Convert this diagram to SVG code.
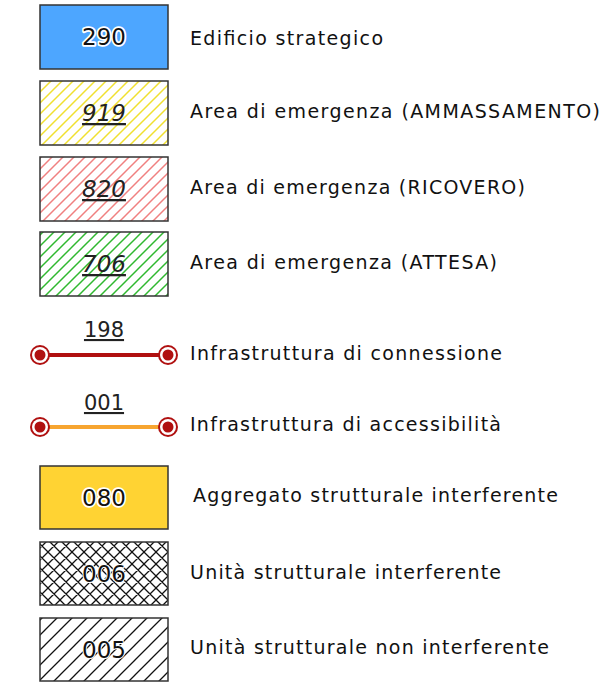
<svg xmlns="http://www.w3.org/2000/svg" width="612" height="683" viewBox="0 0 612 683">
<defs>
<pattern id="hY" patternUnits="userSpaceOnUse" width="11" height="11"><path d="M-1,1 l2,-2 M0,11 l11,-11 M10,12 l2,-2" stroke="#f0e030" stroke-width="1.5"/></pattern>
<pattern id="hR" patternUnits="userSpaceOnUse" width="11" height="11"><path d="M-1,1 l2,-2 M0,11 l11,-11 M10,12 l2,-2" stroke="#f08080" stroke-width="1.5"/></pattern>
<pattern id="hG" patternUnits="userSpaceOnUse" width="11" height="11"><path d="M-1,1 l2,-2 M0,11 l11,-11 M10,12 l2,-2" stroke="#30b830" stroke-width="1.5"/></pattern>
<pattern id="hX" patternUnits="userSpaceOnUse" width="12" height="12"><path d="M-1,1 l2,-2 M0,12 l12,-12 M11,13 l2,-2 M-1,11 l2,2 M0,0 l12,12 M11,-1 l2,2" stroke="#111" stroke-width="1.3"/></pattern>
<pattern id="hK" patternUnits="userSpaceOnUse" width="15" height="15"><path d="M-1,1 l2,-2 M0,15 l15,-15 M14,16 l2,-2" stroke="#111" stroke-width="1.3"/></pattern>
</defs>
<style>
.box{stroke:#333;stroke-width:1.5}
.lbl{font-family:"DejaVu Sans",sans-serif;font-size:19px;fill:#111}
.num{font-family:"DejaVu Sans",sans-serif;font-size:23px;fill:#111;text-anchor:middle;stroke:#fff;stroke-width:3.5;paint-order:stroke;stroke-linejoin:round}
.it{font-family:"DejaVu Sans",sans-serif;font-size:23px;font-style:italic;fill:#222;text-anchor:middle;text-decoration:underline}
.ul{font-family:"DejaVu Sans",sans-serif;font-size:21px;fill:#222;text-anchor:middle;text-decoration:underline}
</style>
<g id="n290">
<rect class="box" x="40" y="5" width="128" height="64" fill="#4da6ff"/>
<text class="num" x="104" y="45">290</text>
<text class="lbl" x="190" y="45" textLength="193" lengthAdjust="spacing">Edificio strategico</text>
</g>
<g id="n919">
<rect x="40" y="81" width="128" height="64" fill="#fff"/>
<rect class="box" x="40" y="81" width="128" height="64" fill="url(#hY)"/>
<text class="it" x="104" y="121">919</text>
<text class="lbl" x="190" y="118" textLength="410" lengthAdjust="spacing">Area di emergenza (AMMASSAMENTO)</text>
</g>
<g id="n820">
<rect x="40" y="157" width="128" height="64" fill="#fff"/>
<rect class="box" x="40" y="157" width="128" height="64" fill="url(#hR)"/>
<text class="it" x="104" y="197">820</text>
<text class="lbl" x="190" y="194" textLength="335" lengthAdjust="spacing">Area di emergenza (RICOVERO)</text>
</g>
<g id="n706">
<rect x="40" y="232" width="128" height="64" fill="#fff"/>
<rect class="box" x="40" y="232" width="128" height="64" fill="url(#hG)"/>
<text class="it" x="104" y="272">706</text>
<text class="lbl" x="190" y="269" textLength="307" lengthAdjust="spacing">Area di emergenza (ATTESA)</text>
</g>
<g id="connectors">
<g id="e198">
<text class="ul" x="104" y="337">198</text>
<line x1="40" y1="355" x2="168" y2="355" stroke="#b01010" stroke-width="4"/>
<circle cx="40" cy="355" r="10" fill="#b01010"/><circle cx="40" cy="355" r="8" fill="#fff"/><circle cx="40" cy="355" r="5.5" fill="#b01010"/>
<circle cx="168" cy="355" r="10" fill="#b01010"/><circle cx="168" cy="355" r="8" fill="#fff"/><circle cx="168" cy="355" r="5.5" fill="#b01010"/>
</g>
<g id="e001">
<text class="ul" x="104" y="410">001</text>
<line x1="40" y1="427" x2="168" y2="427" stroke="#f7a530" stroke-width="4"/>
<circle cx="40" cy="427" r="10" fill="#b01010"/><circle cx="40" cy="427" r="8" fill="#fff"/><circle cx="40" cy="427" r="5.5" fill="#b01010"/>
<circle cx="168" cy="427" r="10" fill="#b01010"/><circle cx="168" cy="427" r="8" fill="#fff"/><circle cx="168" cy="427" r="5.5" fill="#b01010"/>
</g>
</g>
<text class="lbl" x="190" y="360" textLength="312" lengthAdjust="spacing">Infrastruttura di connessione</text>
<text class="lbl" x="190" y="431" textLength="311" lengthAdjust="spacing">Infrastruttura di accessibilità</text>
<g id="n080">
<rect class="box" x="40" y="466" width="128" height="63" fill="#ffd333"/>
<text class="num" x="104" y="506">080</text>
<text class="lbl" x="193" y="502" textLength="365" lengthAdjust="spacing">Aggregato strutturale interferente</text>
</g>
<g id="n006">
<rect x="40" y="542" width="128" height="63" fill="#fff"/>
<rect class="box" x="40" y="542" width="128" height="63" fill="url(#hX)"/>
<text class="num" x="104" y="582" style="stroke-width:2">006</text>
<text class="lbl" x="190" y="579" textLength="311" lengthAdjust="spacing">Unità strutturale interferente</text>
</g>
<g id="n005">
<rect x="40" y="618" width="128" height="63" fill="#fff"/>
<rect class="box" x="40" y="618" width="128" height="63" fill="url(#hK)"/>
<text class="num" x="104" y="658" style="stroke-width:2">005</text>
<text class="lbl" x="190" y="654" textLength="359" lengthAdjust="spacing">Unità strutturale non interferente</text>
</g>
</svg>
